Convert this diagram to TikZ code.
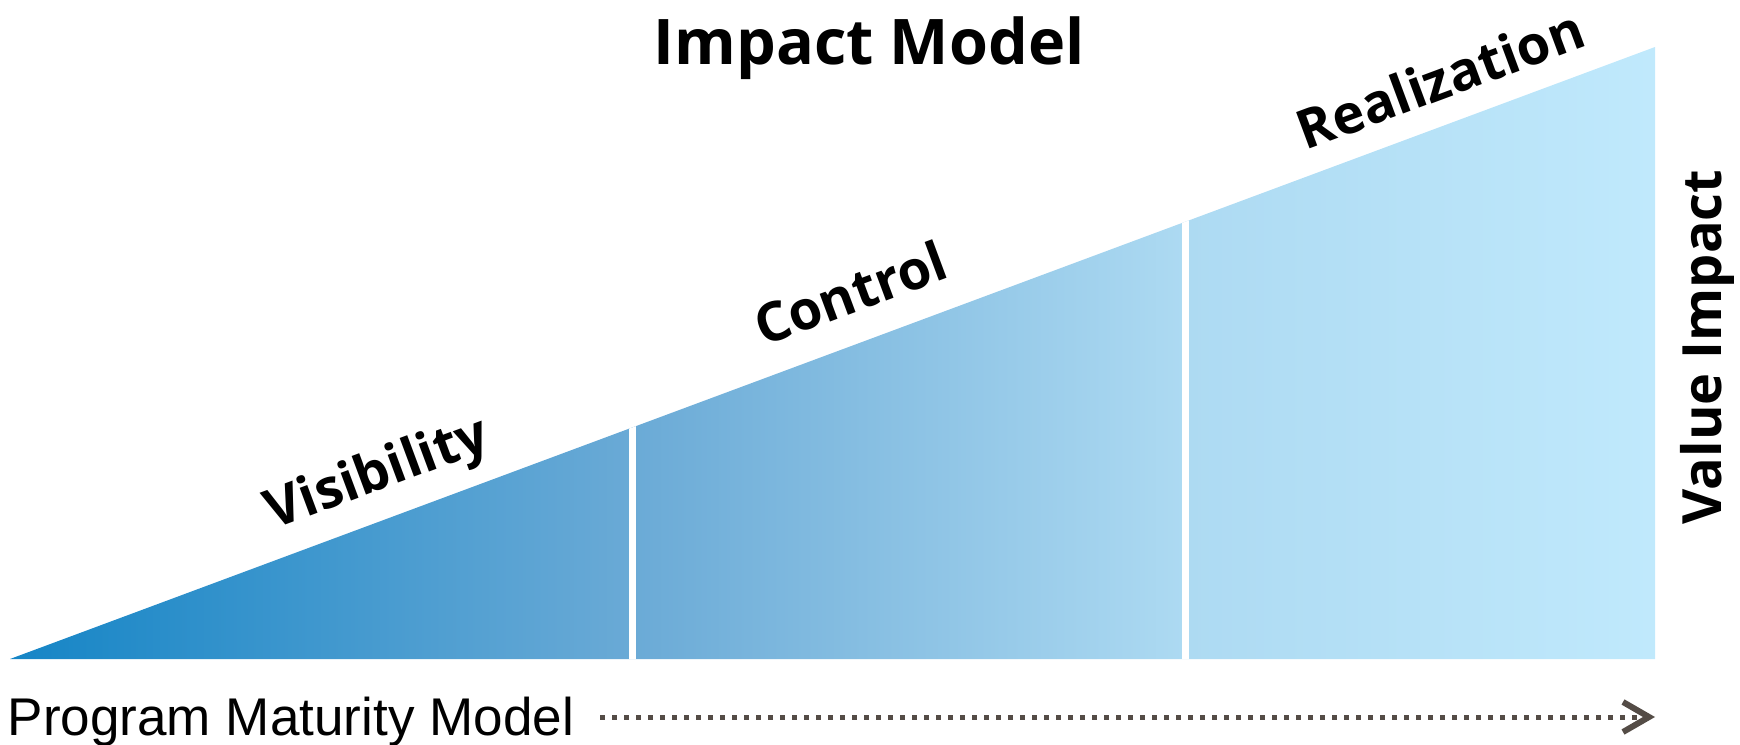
\documentclass[tikz,border=0pt]{standalone}
\usepackage{fontspec}
\setmainfont{Open Sans}
\newfontfamily\plainfont{Liberation Sans}
\usetikzlibrary{arrows.meta}

\definecolor{fadeA}{HTML}{1585C6}
\definecolor{fadeB}{HTML}{6AAAD6}
\definecolor{fadeC}{HTML}{ADDAF2}
\definecolor{fadeD}{HTML}{C0E9FC}
\definecolor{arrowgray}{HTML}{544C46}

% left-to-right fade of the wedge (box maps onto 25bp..75bp)
\pgfdeclarehorizontalshading{impactfade}{100bp}{color(0bp)=(fadeA); color(25bp)=(fadeA); color(43.9bp)=(fadeB); color(60.7bp)=(fadeC); color(75bp)=(fadeD); color(100bp)=(fadeD)}

\tikzset{
  stagelabel/.style={font=\fontsize{15.4}{18}\selectfont\bfseries, rotate=20.4, inner sep=0pt},
  divider/.style={white, line width=0.07cm},
}

\begin{document}
\begin{tikzpicture}
\useasboundingbox (0,0) rectangle (17.40,7.44);
\coordinate (tip) at (0.10,0.85);
\coordinate (base) at (16.55,0.85);
\coordinate (top) at (16.55,6.97);
\shade[shading=impactfade] (tip)--(base)--(top)--cycle;
% gaps between the three stages
\begin{scope}
\clip (tip)--(base)--(top)--cycle;
\draw[divider] (6.32,0)--(6.32,7.44);
\draw[divider] (11.85,0)--(11.85,7.44);
\end{scope}
\node[stagelabel] (visibility) at (3.78,2.68) {Visibility};
\node[stagelabel] (control) at (8.50,4.51) {Control};
\node[stagelabel] (realization) at (14.40,6.65) {Realization};
\node[anchor=base, inner sep=0pt, font=\fontsize{17.9}{20}\selectfont\bfseries] (title) at (8.69,6.79) {Impact Model};
\node[rotate=90, inner sep=0pt, font=\fontsize{15.4}{18}\selectfont\bfseries] (value) at (17.07,3.97) {Value Impact};
\node[anchor=base west, inner sep=0pt, font=\plainfont\fontsize{15.1}{18}\selectfont] (maturity) at (0.07,0.09) {Program Maturity Model};
% maturity axis
\coordinate (mstart) at (6.00,0.27);
\coordinate (mend) at (16.55,0.27);
\draw[arrowgray, line width=0.05cm, dash pattern=on 0.05cm off 0.07cm, -{Straight Barb[length=0.26cm,width=0.3cm,line width=0.06cm]}] (mstart)--(mend);
\end{tikzpicture}
\end{document}
